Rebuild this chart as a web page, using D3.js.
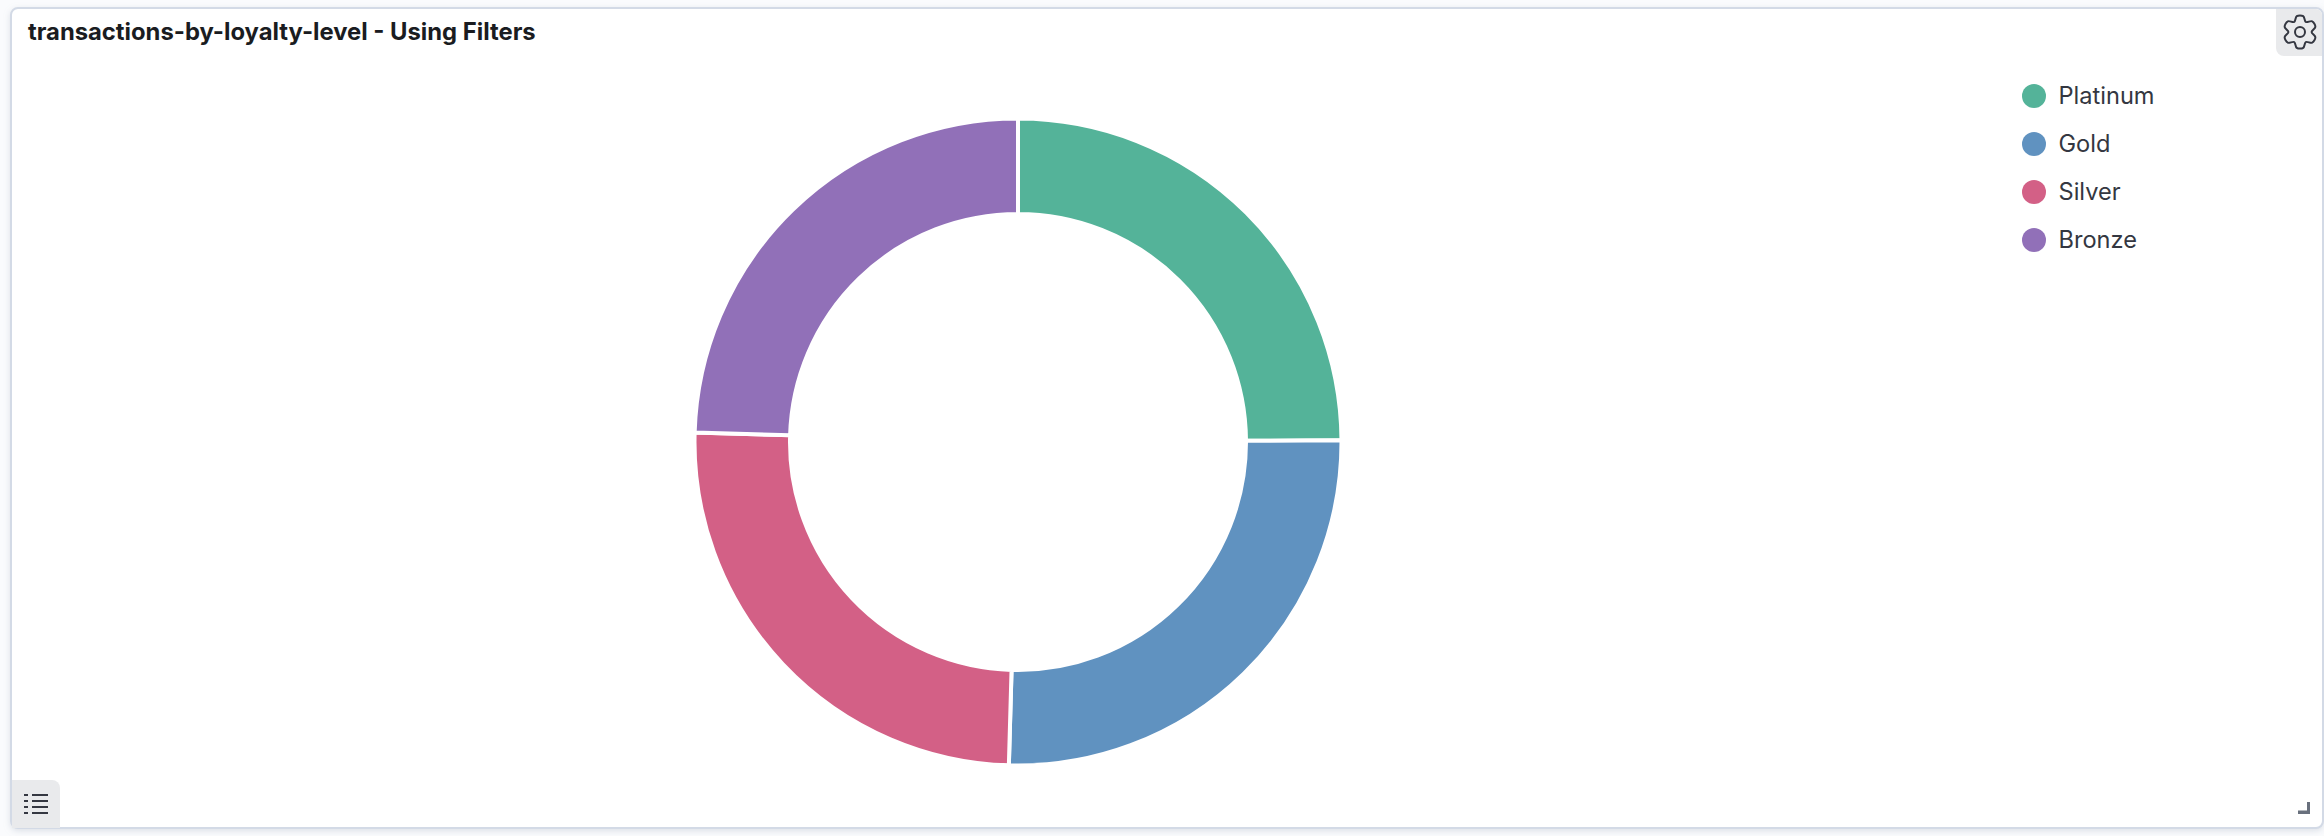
<!DOCTYPE html>
<html><head><meta charset="utf-8">
<script src="https://cdn.jsdelivr.net/npm/d3@7/dist/d3.min.js"></script>
<style>html,body{margin:0;padding:0;background:#fafbfd;overflow:hidden}svg{display:block}text{font-family:Inter,sans-serif}</style>
</head><body><svg id="c" width="2324" height="836"></svg>
<script>
const title = "transactions-by-loyalty-level - Using Filters";
const categories = ["Platinum","Gold","Silver","Bronze"];
const values = [24.92,25.53,25.02,24.53];
const colors = ["#54B399","#6092C0","#D36086","#9170B8"];

const W=2324,H=836;
const svg=d3.select("#c");
const defs=svg.append("defs");
const f=defs.append("filter").attr("id","sh").attr("x","-2%").attr("y","-2%").attr("width","104%").attr("height","104%");
f.append("feDropShadow").attr("dx",0).attr("dy",2).attr("stdDeviation",3).attr("flood-color","#98a2b3").attr("flood-opacity",0.3);

// panel
svg.append("rect").attr("x",11).attr("y",8).attr("width",2312).attr("height",820).attr("rx",7)
  .attr("fill","#fff").attr("stroke","#d3dae6").attr("stroke-width",2).attr("filter","url(#sh)");

// title
svg.append("text").attr("x",28).attr("y",40).attr("font-size",23.8).attr("font-weight",700).attr("fill","#1a1c21").text(title);

// donut
const color=d3.scaleOrdinal().domain(categories).range(colors);
const cx=1018,cy=442,R=323.500,r=228;
const pie=d3.pie().value(d=>d.v).sort(null)(categories.map((c,i)=>({c,v:values[i]})));
const arc=d3.arc().innerRadius(r).outerRadius(R);
svg.append("g").attr("transform",`translate(${cx},${cy})`).selectAll("path").data(pie).join("path")
  .attr("d",arc).attr("fill",d=>color(d.data.c)).attr("stroke","#fff").attr("stroke-width",4).attr("stroke-linejoin","miter");

// legend
const ly=d3.scalePoint().domain(categories).range([96,240]);
const lg=svg.append("g").selectAll("g").data(categories).join("g").attr("transform",d=>`translate(2034,${ly(d)})`);
lg.append("circle").attr("r",12).attr("fill",d=>color(d));
lg.append("text").attr("x",24.500).attr("y",8).attr("font-size",23.6).attr("fill","#343741").text(d=>d);

// gear button
svg.append("path").attr("d","M2276,9H2316a6,6 0 0 1 6,6V56H2284a8,8 0 0 1 -8,-8Z").attr("fill","#e9eaec");
const gearPts=[];
d3.range(6).forEach(i=>{const a=i*Math.PI/3;
  gearPts.push([a-0.2,16.2],[a+0.2,16.2],[a+Math.PI/6,11.6]);});
const gear=svg.append("g").attr("transform","translate(2300,32)").attr("fill","none").attr("stroke","#343741").attr("stroke-width",2);
gear.append("path").attr("d",d3.lineRadial().curve(d3.curveCatmullRomClosed.alpha(0.5))(gearPts));
gear.append("circle").attr("r",5);

// legend toggle button
svg.append("path").attr("d","M12,828V780H52a8,8 0 0 1 8,8V828Z").attr("fill","#e9eaec");
const rows=d3.range(4);
const ico=svg.append("g").attr("fill","#343741");
ico.selectAll(".b").data(rows).join("rect").attr("class","b").attr("x",24).attr("y",d=>794+d*6).attr("width",4).attr("height",2);
ico.selectAll(".l").data(rows).join("rect").attr("class","l").attr("x",32).attr("y",d=>794+d*6).attr("width",16).attr("height",2);

// resize handle
svg.append("path").attr("d","M2307,802H2310V814H2298V810.500H2307Z").attr("fill","#69707d");
</script></body></html>
